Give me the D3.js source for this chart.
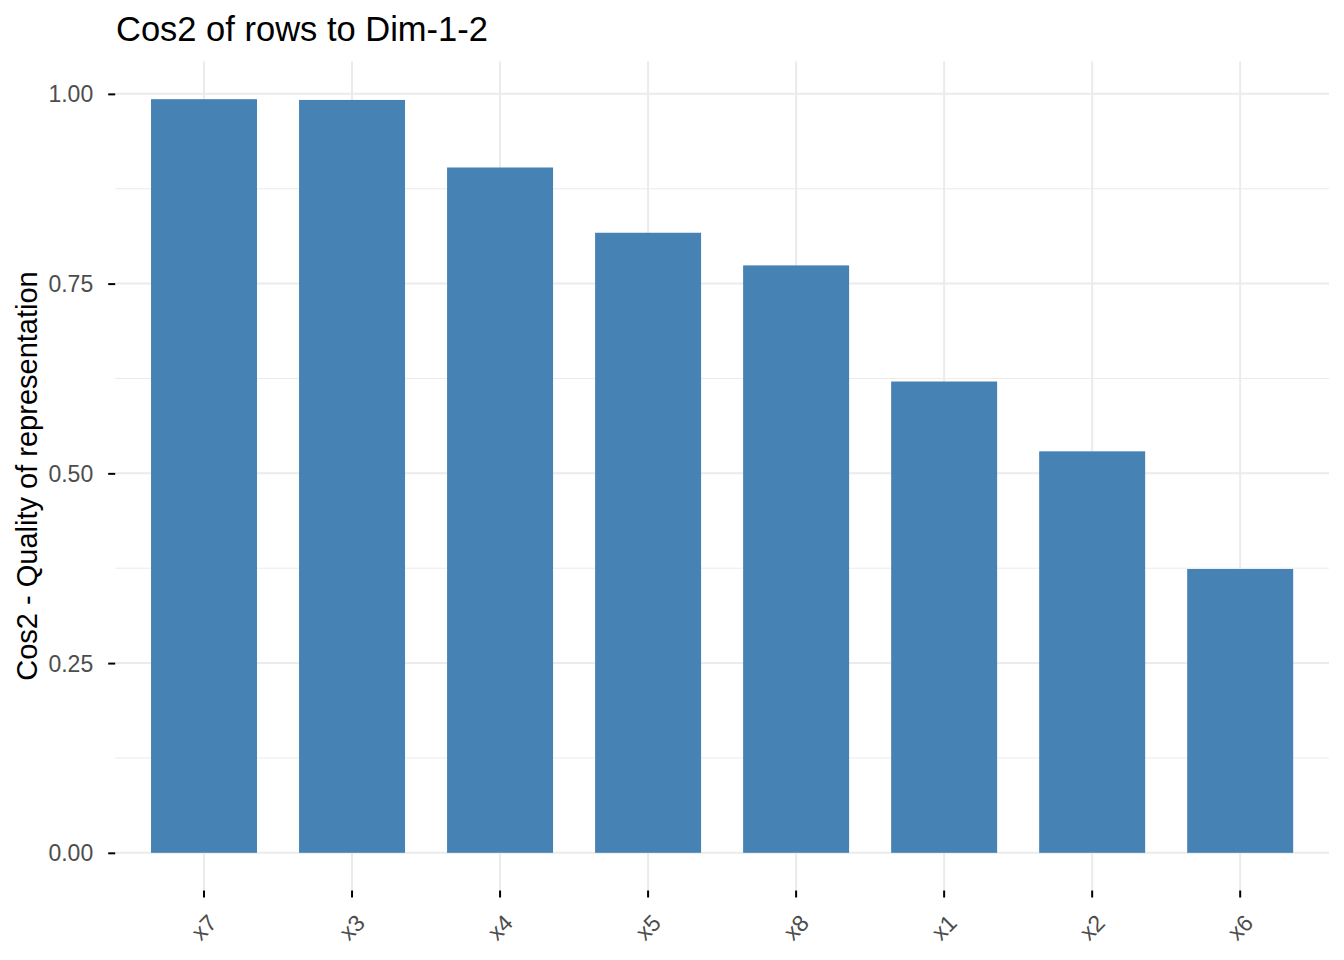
<!DOCTYPE html>
<html><head><meta charset="utf-8">
<script src="https://cdn.jsdelivr.net/npm/d3@7"></script>
<style>body{margin:0;background:#fff}svg text{font-family:"Liberation Sans",Arial,sans-serif}</style>
</head><body>
<svg id="c" width="1344" height="960"></svg>
<script>
const categories = ["x7","x3","x4","x5","x8","x1","x2","x6"];
const cos2Values = [0.993, 0.992, 0.903, 0.817, 0.774, 0.621, 0.529, 0.374];
const yTicks = [0, 0.25, 0.5, 0.75, 1.0];
const yMinorTicks = [0.125, 0.375, 0.625, 0.875];
const titleText = "Cos2 of rows to Dim-1-2";
const yTitle = "Cos2 - Quality of representation";

const svg = d3.select("#c");
const L = 115.2, R = 1329, T = 61.5, B = 890.5;
const maxV = d3.max(cos2Values);
const y = d3.scaleLinear().domain([-0.05*maxV, 1.05*maxV]).range([B, T]);
const x = d3.scaleBand().domain(categories).range([L, R]).paddingInner(0.284).paddingOuter(0.242);
const cx = d => x(d) + x.bandwidth()/2;

const grid = svg.append("g");
yMinorTicks.forEach(t => grid.append("line").attr("x1",L).attr("x2",R).attr("y1",y(t)).attr("y2",y(t)).attr("stroke","#ebebeb").attr("stroke-width",1));
yTicks.forEach(t => grid.append("line").attr("x1",L).attr("x2",R).attr("y1",y(t)).attr("y2",y(t)).attr("stroke","#ebebeb").attr("stroke-width",2));
categories.forEach(c => grid.append("line").attr("x1",cx(c)).attr("x2",cx(c)).attr("y1",T).attr("y2",B).attr("stroke","#ebebeb").attr("stroke-width",2));

svg.append("g").selectAll("rect").data(categories).join("rect")
  .attr("x", d => x(d)).attr("width", x.bandwidth())
  .attr("y", (d,i) => y(cos2Values[i])).attr("height", (d,i) => y(0) - y(cos2Values[i]))
  .attr("fill", "#4682b4");

// y axis
const ya = svg.append("g").attr("transform", `translate(${L},0)`)
  .call(d3.axisLeft(y).tickValues(yTicks).tickFormat(d3.format(".2f")).tickSize(7).tickPadding(15));
ya.select(".domain").remove();
ya.selectAll(".tick line").attr("stroke","#000").attr("stroke-width",2);
ya.selectAll(".tick text").attr("fill","#4d4d4d").style("font-size","23px").attr("dy","0.35em");

// x axis
const xa = svg.append("g").attr("transform", `translate(0,${B})`)
  .call(d3.axisBottom(x).tickSize(7).tickPadding(0));
xa.select(".domain").remove();
xa.selectAll(".tick line").attr("stroke","#000").attr("stroke-width",2);
xa.selectAll(".tick text").attr("fill","#4d4d4d").style("font-size","23px")
  .attr("text-anchor","middle").attr("dy",null).attr("y",null)
  .attr("transform","translate(0,37) rotate(-45)").attr("dominant-baseline","central");

svg.append("text").attr("x",116).attr("y",41).text(titleText).style("font-size","34.5px").attr("fill","#000");
svg.append("text").attr("transform",`translate(37,${(T+B)/2}) rotate(-90)`).attr("text-anchor","middle")
  .text(yTitle).style("font-size","29px").attr("fill","#000");
</script>
</body></html>
